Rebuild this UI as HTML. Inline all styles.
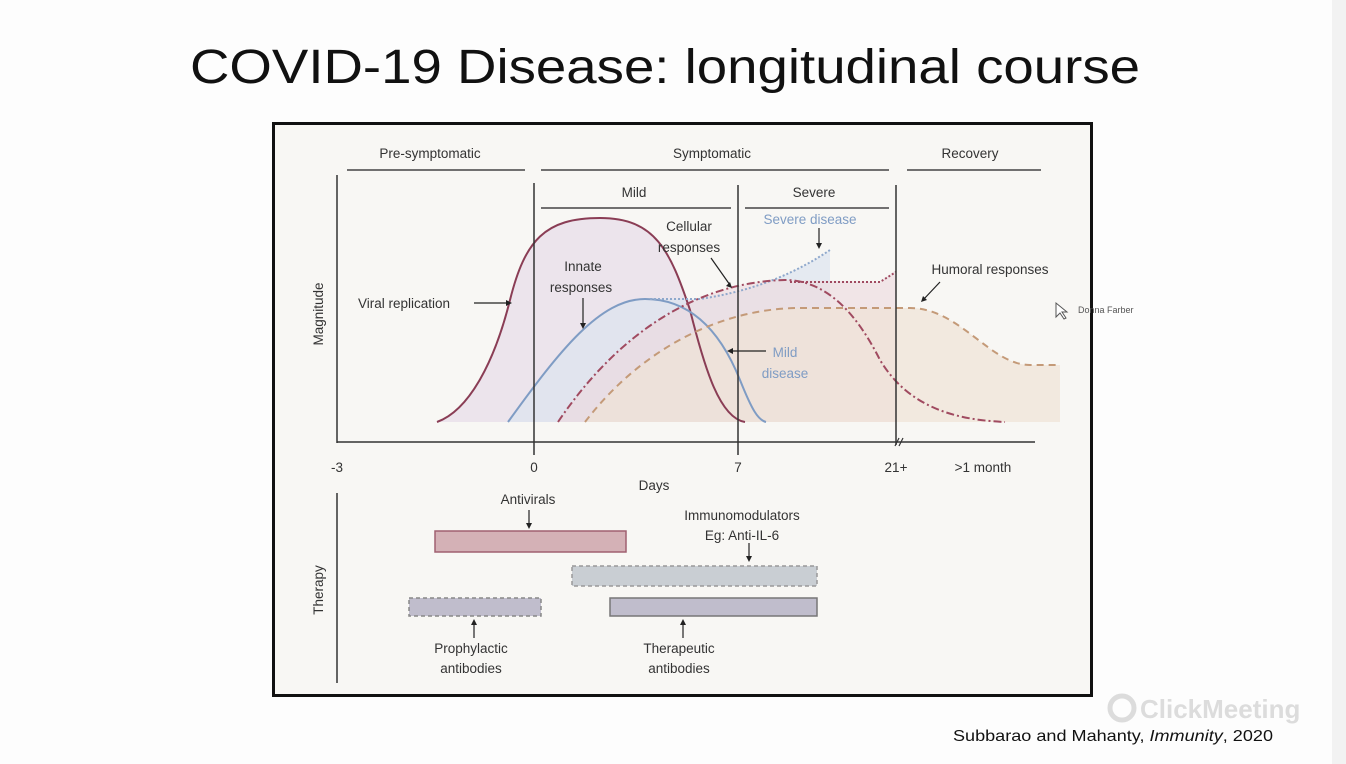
<!DOCTYPE html>
<html><head><meta charset="utf-8"><style>
html,body{margin:0;padding:0;background:#fff;}
svg{display:block;font-family:"Liberation Sans",sans-serif;}
</style></head><body>
<svg width="1346" height="764" viewBox="0 0 1346 764" xmlns="http://www.w3.org/2000/svg">
<rect width="1346" height="764" fill="#fdfdfd"/>
<rect x="1332" y="0" width="14" height="764" fill="#f2f2f2"/>
<text x="665" y="83" font-size="48" text-anchor="middle" textLength="950" lengthAdjust="spacingAndGlyphs" fill="#111">COVID-19 Disease: longitudinal course</text>
<rect x="273.5" y="123.5" width="818" height="572" fill="#f8f7f4" stroke="#111" stroke-width="3"/>
<g font-size="13.5" fill="#333" text-anchor="middle">
<text x="430" y="158">Pre-symptomatic</text>
<text x="712" y="158">Symptomatic</text>
<text x="970" y="158">Recovery</text>
<text x="634" y="197">Mild</text>
<text x="814" y="197">Severe</text>
</g>
<g stroke="#444" stroke-width="1.5">
<line x1="347" y1="170" x2="525" y2="170"/><line x1="541" y1="170" x2="889" y2="170"/><line x1="907" y1="170" x2="1041" y2="170"/>
<line x1="541" y1="208" x2="731" y2="208"/><line x1="745" y1="208" x2="889" y2="208"/>
</g>
<path d="M437,422 C470,410 495,360 510,300 C525,240 545,218 600,218 C655,218 670,250 690,310 C705,370 720,418 745,422 Z" fill="#e9dfea" opacity="0.8"/>
<path d="M508,422 C560,350 600,299 645,299 L700,299 C760,290 800,270 830,250 L830,422 Z" fill="#dde4ef" opacity="0.7"/>
<path d="M558,422 C620,330 700,282 785,280 L880,282 L896,270 L896,422 Z" fill="#ecd8de" opacity="0.6"/>
<path d="M585,422 C640,350 720,308 800,308 L910,308 C960,308 990,365 1030,365 L1060,365 L1060,422 Z" fill="#f0e2d6" opacity="0.7"/>
<path d="M437,422 C470,410 495,360 510,300 C525,240 545,218 600,218 C655,218 670,250 690,310 C705,370 720,418 745,422" fill="none" stroke="#8a3d55" stroke-width="2"/>
<path d="M508,422 C560,350 600,299 645,299 C690,299 720,330 740,380 C752,410 758,420 766,422" fill="none" stroke="#7f9cc4" stroke-width="2"/>
<path d="M650,299 L700,299 C760,290 800,270 830,250" fill="none" stroke="#8fa8cc" stroke-width="2" stroke-dasharray="2,2"/>
<path d="M558,422 C620,330 700,282 785,280 C830,280 860,320 880,360 C910,410 960,420 1005,422" fill="none" stroke="#a04a60" stroke-width="2" stroke-dasharray="8,3,2,3"/>
<path d="M790,282 L880,282 L896,272" fill="none" stroke="#a04a60" stroke-width="2" stroke-dasharray="2,2"/>
<path d="M585,422 C640,350 720,308 800,308 L910,308 C960,308 990,365 1030,365 L1060,365" fill="none" stroke="#c49a78" stroke-width="2" stroke-dasharray="7,5"/>
<g stroke="#333" stroke-width="1.5">
<line x1="337" y1="175" x2="337" y2="443"/><line x1="337" y1="442" x2="1035" y2="442"/>
<line x1="534" y1="183" x2="534" y2="455"/><line x1="738" y1="185" x2="738" y2="455"/><line x1="896" y1="185" x2="896" y2="445"/>
<line x1="337" y1="493" x2="337" y2="683"/>
</g>
<g stroke="#333" stroke-width="1.2"><line x1="895" y1="446" x2="899" y2="438"/><line x1="899" y1="446" x2="903" y2="438"/></g>
<g font-size="13.5" fill="#333" text-anchor="middle">
<text x="337" y="472">-3</text><text x="534" y="472">0</text><text x="738" y="472">7</text><text x="896" y="472">21+</text><text x="983" y="472">&gt;1 month</text>
<text x="654" y="490">Days</text>
<text x="404" y="308">Viral replication</text>
<text x="583" y="271">Innate</text><text x="581" y="292">responses</text>
<text x="689" y="231">Cellular</text><text x="689" y="252">responses</text>
<text x="810" y="224" fill="#7f9cc4">Severe disease</text>
<text x="990" y="274">Humoral responses</text>
<text x="785" y="357" fill="#7f9cc4">Mild</text><text x="785" y="378" fill="#7f9cc4">disease</text>
<text x="528" y="504">Antivirals</text>
<text x="742" y="520">Immunomodulators</text><text x="742" y="540">Eg: Anti-IL-6</text>
<text x="471" y="653">Prophylactic</text><text x="471" y="673">antibodies</text>
<text x="679" y="653">Therapeutic</text><text x="679" y="673">antibodies</text>
<text transform="translate(323,314) rotate(-90)">Magnitude</text>
<text transform="translate(323,590) rotate(-90)">Therapy</text>
</g>
<g stroke="#222" stroke-width="1.2" fill="none">
<line x1="474" y1="303" x2="510" y2="303"/><line x1="583" y1="298" x2="583" y2="326"/>
<line x1="711" y1="258" x2="730" y2="285"/><line x1="819" y1="228" x2="819" y2="246"/>
<line x1="940" y1="282" x2="923" y2="300"/><line x1="766" y1="351" x2="730" y2="351"/>
<line x1="529" y1="510" x2="529" y2="526"/><line x1="749" y1="543" x2="749" y2="559"/>
<line x1="474" y1="622" x2="474" y2="638"/><line x1="683" y1="622" x2="683" y2="638"/>
</g>
<g fill="#222">
<path d="M512,303 l-6,-3 v6z"/><path d="M583,329 l-3,-6 h6z"/><path d="M732,288 l-6,-2 4,-4z"/>
<path d="M819,249 l-3,-6 h6z"/><path d="M921,302 l2,-6 4,4z"/><path d="M727,351 l6,-3 v6z"/>
<path d="M529,529 l-3,-6 h6z"/><path d="M749,562 l-3,-6 h6z"/>
<path d="M474,619 l-3,6 h6z"/><path d="M683,619 l-3,6 h6z"/>
</g>
<rect x="435" y="531" width="191" height="21" fill="#d4b1b6" stroke="#a06070" stroke-width="1.5"/>
<rect x="572" y="566" width="245" height="20" fill="#c9ced3" stroke="#999" stroke-width="1.5" stroke-dasharray="4,3"/>
<rect x="409" y="598" width="132" height="18" fill="#c0bdcc" stroke="#888" stroke-width="1.5" stroke-dasharray="4,3"/>
<rect x="610" y="598" width="207" height="18" fill="#c0bdcc" stroke="#777" stroke-width="1.5"/>
<path d="M1056,303 l0,14 4,-4 4,6 2,-1 -4,-6 5,0z" fill="#fff" stroke="#555" stroke-width="1"/>
<text x="1078" y="313" font-size="9" fill="#555">Donna Farber</text>
<text x="1140" y="718" font-size="26" font-weight="bold" fill="#dcdcdc">ClickMeeting</text>
<circle cx="1122" cy="708" r="12" fill="none" stroke="#dcdcdc" stroke-width="5"/>
<text x="953" y="741" font-size="16" fill="#111" textLength="320" lengthAdjust="spacingAndGlyphs">Subbarao and Mahanty, <tspan font-style="italic">Immunity</tspan>, 2020</text>
</svg>
</body></html>
